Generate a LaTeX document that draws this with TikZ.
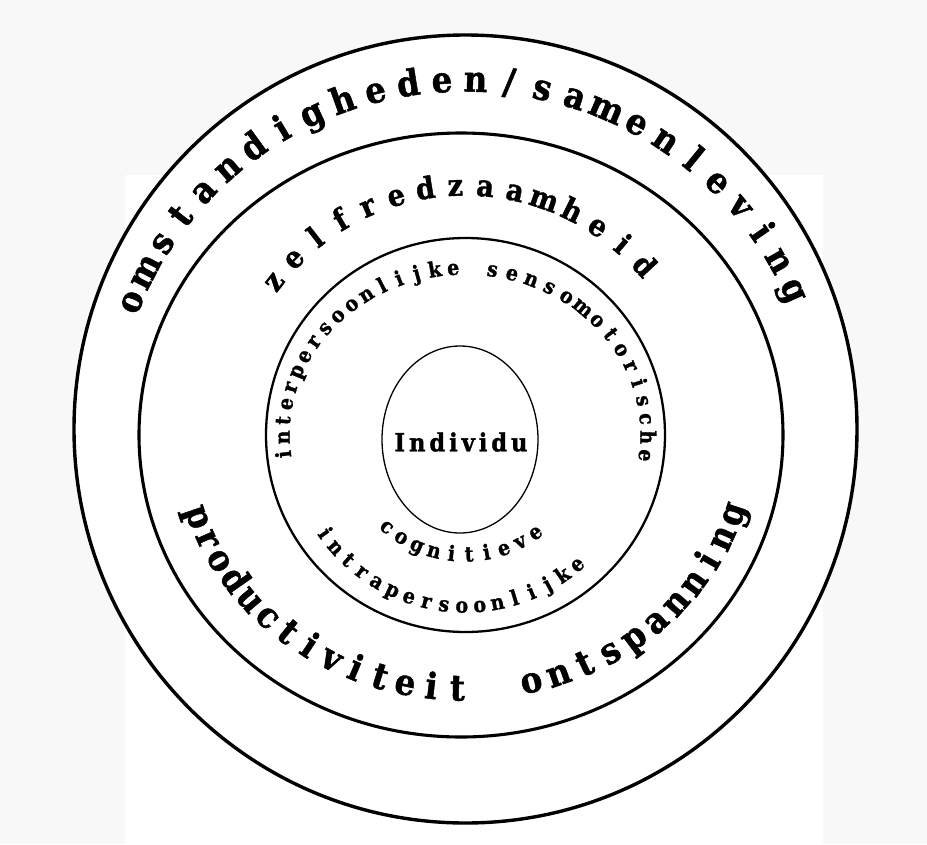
\documentclass[tikz,border=0pt]{standalone}
\usepackage{fontspec}
\setmainfont{DejaVu Serif}[BoldFeatures={FakeBold=1.3, FakeStretch=0.9}]
\definecolor{bggrey}{RGB}{248,248,248}
\tikzset{
  ringline/.style={draw=black},
  ch/.style={anchor=mid, inner sep=0pt},
  bigfont/.style={font=\fontsize{36}{40}\selectfont\bfseries},
  midfont/.style={font=\fontsize{30}{34}\selectfont\bfseries},
  smallfont/.style={font=\fontsize{21}{25}\selectfont\bfseries},
  centerfont/.style={font=\fontsize{25}{29}\selectfont\bfseries\addfontfeature{LetterSpace=16}},
}
\begin{document}
\begin{tikzpicture}[x=1pt,y=-1pt]
\useasboundingbox (0,0) rectangle (927,844);
% background
\fill[bggrey] (0,0) rectangle (927,844);
\fill[white] (125,175) rectangle (823,844);
\fill[white] (465.5,429) ellipse [x radius=391.5, y radius=394];
% rings
\draw[ringline, line width=3.4pt] (465.5,429) ellipse [x radius=391.5, y radius=394];
\draw[ringline, line width=3.1pt] (461,435) ellipse [x radius=322, y radius=302];
\draw[ringline, line width=2.3pt] (465.5,435) ellipse [x radius=199.5, y radius=197];
\draw[ringline, line width=1.3pt] (460,439.5) ellipse [x radius=78, y radius=93.5];
% centre
\node[centerfont, inner sep=0pt] (individu) at (461,442) {Individu};
% outer ring text
\foreach \c [count=\i from 0] in {o,m,s,t,a,n,d,i,g,h,e,d,e,n,/,s,a,m,e,n,l,e,v,i,n,g} {
  \pgfmathsetmacro\a{158-\i*5.36}
  \node[ch, bigfont, rotate=\a-90] (omst\i) at ({465+352*cos(\a)},{434-345*sin(\a)}) {\c};
}
% second ring, top
\foreach \c [count=\i from 0] in {z,e,l,f,r,e,d,z,a,a,m,h,e,i,d} {
  \pgfmathsetmacro\a{142-\i*7.1}
  \node[ch, midfont, rotate=\a-90] (zelf\i) at ({465+236*cos(\a)},{434-241*sin(\a)}) {\c};
}
% second ring, bottom
\foreach \c [count=\i from 0] in {p,r,o,d,u,c,t,i,v,i,t,e,i,t} {
  \pgfmathsetmacro\a{198.9+\i*5.35}
  \node[ch, bigfont, rotate=\a+90] (prod\i) at ({465+290*cos(\a)},{434-264*sin(\a)}) {\c};
}
\foreach \c [count=\i from 0] in {o,n,t,s,p,a,n,n,i,n,g} {
  \pgfmathsetmacro\a{283.6+\i*5.81}
  \node[ch, bigfont, rotate=\a+90] (onts\i) at ({465+290*cos(\a)},{434-263*sin(\a)}) {\c};
}
% third ring, top
\foreach \c [count=\i from 0] in {i,n,t,e,r,p,e,r,s,o,o,n,l,i,j,k,e} {
  \pgfmathsetmacro\a{187-\i*5.83}
  \node[ch, smallfont, rotate=\a-90] (inter\i) at ({465+178*cos(\a)},{434-162*sin(\a)}) {\c};
}
\foreach \c [count=\i from 0] in {s,e,n,s,o,m,o,t,o,r,i,s,c,h,e} {
  \pgfmathsetmacro\a{81.3-\i*6.34}
  \node[ch, smallfont, rotate=\a-90] (senso\i) at ({465+178*cos(\a)},{434-162*sin(\a)}) {\c};
}
% third ring, bottom
\foreach \c [count=\i from 0] in {c,o,g,n,i,t,i,e,v,e} {
  \pgfmathsetmacro\a{230+\i*8.39}
  \node[ch, smallfont, rotate=\a+90] (cogn\i) at ({465+125*cos(\a)},{434-125*sin(\a)}) {\c};
}
\foreach \c [count=\i from 0] in {i,n,t,r,a,p,e,r,s,o,o,n,l,i,j,k,e} {
  \pgfmathsetmacro\a{215.3+\i*5.96}
  \node[ch, smallfont, rotate=\a+90] (intra\i) at ({465+176*cos(\a)},{434-176*sin(\a)}) {\c};
}
\end{tikzpicture}
\end{document}
